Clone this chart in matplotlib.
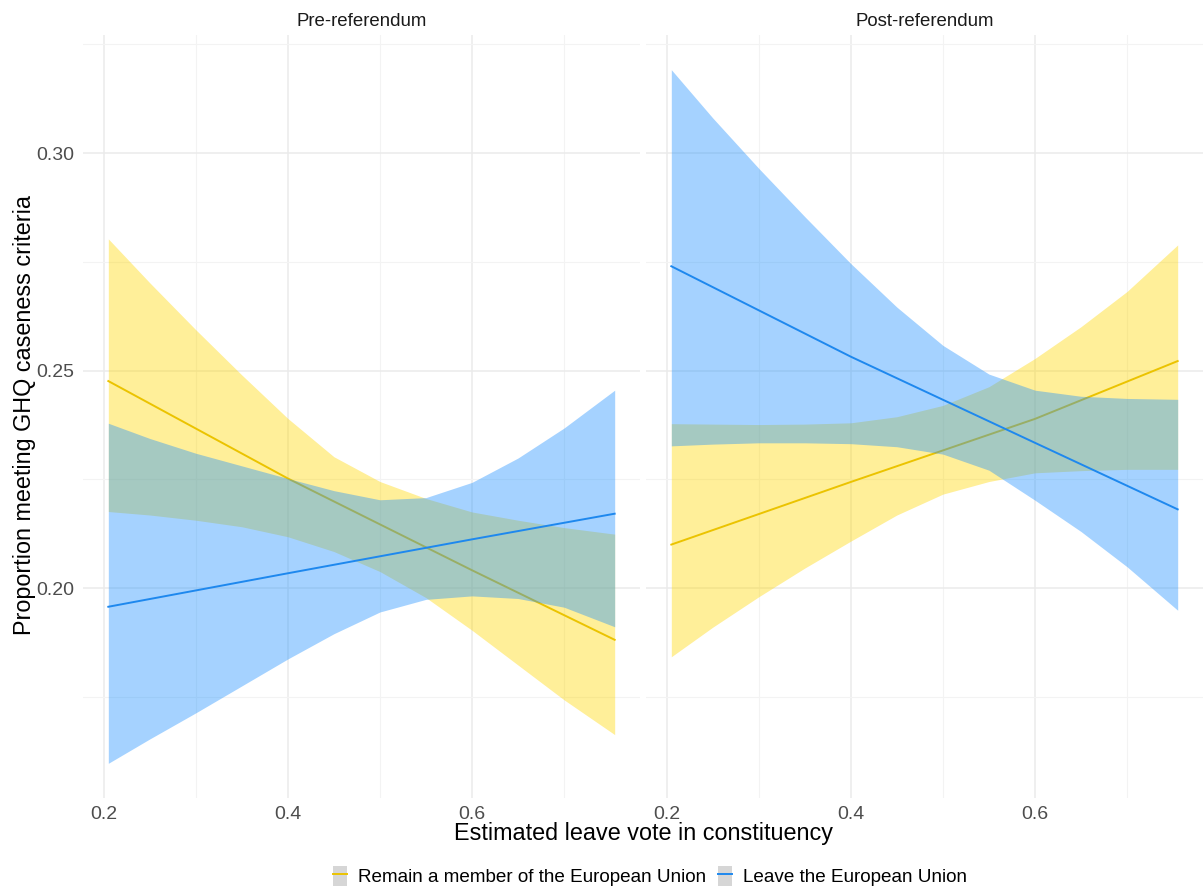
import matplotlib
matplotlib.use("Agg")
import matplotlib.pyplot as plt
from matplotlib.patches import Patch
from matplotlib.lines import Line2D

plt.rcParams['font.family'] = ['Liberation Sans', 'DejaVu Sans']

# ---- data ----
panels = ["Pre-referendum", "Post-referendum"]
groups = ["Remain a member of the European Union", "Leave the European Union"]

x_band = [0.205, 0.25, 0.30, 0.35, 0.40, 0.45, 0.50, 0.55, 0.60, 0.65, 0.70, 0.755]
x_line = [0.205, 0.40, 0.60, 0.755]

# Pre-referendum
pre_remain_upper = [0.2803, 0.2702, 0.2594, 0.2490, 0.2390, 0.2302, 0.2245, 0.2206, 0.2175, 0.2156, 0.2139, 0.2124]
pre_remain_lower = [0.2176, 0.2168, 0.2156, 0.2141, 0.2118, 0.2084, 0.2038, 0.1978, 0.1903, 0.1823, 0.1743, 0.1663]
pre_remain_fit = [0.2476, 0.2252, 0.2041, 0.1881]
pre_leave_upper = [0.2379, 0.2344, 0.2310, 0.2281, 0.2252, 0.2224, 0.2203, 0.2208, 0.2243, 0.2299, 0.2368, 0.2455]
pre_leave_lower = [0.1597, 0.1653, 0.1713, 0.1775, 0.1837, 0.1895, 0.1945, 0.1974, 0.1982, 0.1976, 0.1956, 0.1911]
pre_leave_fit = [0.1957, 0.2034, 0.2112, 0.2171]

# Post-referendum
post_remain_upper = [0.2378, 0.2377, 0.2376, 0.2377, 0.2380, 0.2394, 0.2420, 0.2463, 0.2528, 0.2601, 0.2682, 0.2789]
post_remain_lower = [0.1842, 0.1910, 0.1980, 0.2046, 0.2108, 0.2168, 0.2216, 0.2245, 0.2265, 0.2270, 0.2273, 0.2273]
post_remain_fit = [0.2100, 0.2244, 0.2389, 0.2522]
post_leave_upper = [0.3192, 0.3081, 0.2965, 0.2854, 0.2746, 0.2646, 0.2558, 0.2492, 0.2455, 0.2441, 0.2436, 0.2434]
post_leave_lower = [0.2327, 0.2331, 0.2334, 0.2334, 0.2332, 0.2325, 0.2308, 0.2271, 0.2202, 0.2130, 0.2049, 0.1949]
post_leave_fit = [0.2740, 0.2532, 0.2334, 0.2181]

x_ticks = [0.2, 0.4, 0.6]
x_ticklabels = ["0.2", "0.4", "0.6"]
y_ticks = [0.20, 0.25, 0.30]
y_ticklabels = ["0.20", "0.25", "0.30"]

# ---- styling ----
fill_colors = {"remain": "#FFD700", "leave": "#1E90FF"}
line_colors = {"remain": "#EBC300", "leave": "#1E88EE"}
grid_col = "#EBEBEB"

W, H = 1203, 888
fig = plt.figure(figsize=(W / 100, H / 100), dpi=100)

panel_px = [(83, 557), (646, 557)]
top_px, bot_px = 35, 798

data = [
    (pre_remain_upper, pre_remain_lower, pre_remain_fit, pre_leave_upper, pre_leave_lower, pre_leave_fit),
    (post_remain_upper, post_remain_lower, post_remain_fit, post_leave_upper, post_leave_lower, post_leave_fit),
]

xmin, xmax = min(x_band), max(x_band)
xr = xmax - xmin
xlim = (xmin - 0.05 * xr, xmax + 0.05 * xr)
all_y = pre_remain_upper + pre_remain_lower + pre_leave_upper + pre_leave_lower + \
    post_remain_upper + post_remain_lower + post_leave_upper + post_leave_lower
ymin, ymax = min(all_y), max(all_y)
yr = ymax - ymin
ylim = (ymin - 0.05 * yr, ymax + 0.05 * yr)

for i, (left, width) in enumerate(panel_px):
    ax = fig.add_axes([left / W, (H - bot_px) / H, width / W, (bot_px - top_px) / H])
    ru, rl, rf, lu, ll, lf = data[i]
    ax.fill_between(x_band, rl, ru, color=fill_colors["remain"], alpha=0.4, linewidth=0, zorder=2)
    ax.plot(x_line, rf, color=line_colors["remain"], linewidth=1.4, zorder=3)
    ax.fill_between(x_band, ll, lu, color=fill_colors["leave"], alpha=0.4, linewidth=0, zorder=4)
    ax.plot(x_line, lf, color=line_colors["leave"], linewidth=1.4, zorder=5)

    ax.set_xlim(xlim)
    ax.set_ylim(ylim)
    ax.set_xticks(x_ticks)
    ax.set_xticks([0.3, 0.5, 0.7], minor=True)
    ax.set_yticks(y_ticks)
    ax.set_yticks([0.175, 0.225, 0.275, 0.325], minor=True)
    ax.set_xticklabels(x_ticklabels)
    if i == 0:
        ax.set_yticklabels(y_ticklabels)
    else:
        ax.set_yticklabels([])
    ax.grid(True, which="major", color=grid_col, linewidth=1.1, zorder=0)
    ax.grid(True, which="minor", color="#F3F3F3", linewidth=0.8, zorder=0)
    ax.set_axisbelow(True)
    for s in ax.spines.values():
        s.set_visible(False)
    ax.tick_params(axis="both", which="both", length=0, labelsize=14, labelcolor="#4D4D4D")
    ax.tick_params(axis="x", pad=6)
    ax.tick_params(axis="y", pad=6)
    ax.text(0.5, 1 + 14 / (bot_px - top_px), panels[i], transform=ax.transAxes,
            ha="center", va="center", fontsize=13.4, color="#1A1A1A")

fig.text(644 / W, 1 - 833 / H, "Estimated leave vote in constituency", ha="center", va="center",
         fontsize=16.8, color="black")
fig.text(25 / W, 1 - 415 / H, "Proportion meeting GHQ caseness criteria", ha="center", va="center",
         rotation=90, fontsize=16.8, color="black")

key_patch = Patch(facecolor="#D6D6D6", edgecolor="none")
handles = [(key_patch, Line2D([], [], color=line_colors["remain"], linewidth=1.4)),
           (key_patch, Line2D([], [], color=line_colors["leave"], linewidth=1.4))]
fig.legend(handles, groups, loc="center", bbox_to_anchor=(650 / W, 1 - 876 / H), ncol=2,
           frameon=False, fontsize=13.6, handlelength=0.75, handleheight=1.3,
           handletextpad=0.6, columnspacing=0.6, labelcolor="black")

fig.savefig("out.png", dpi=100)
